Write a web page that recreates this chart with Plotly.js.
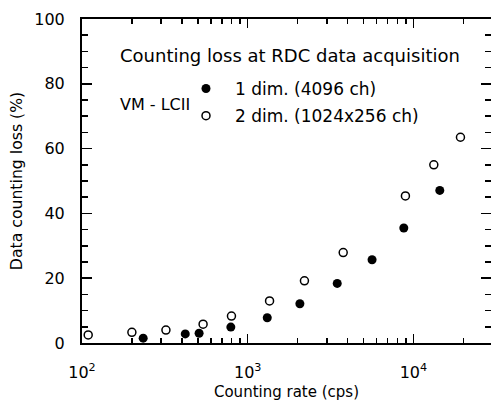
<!DOCTYPE html>
<html>
<head>
<meta charset="utf-8">
<script src="https://cdn.plot.ly/plotly-3.0.1.min.js"></script>
<style>html,body{margin:0;padding:0;background:#fff;}#chart{width:491px;height:405px;}</style>
</head>
<body>
<div id="chart"></div>
<script>
// 1 dim. (4096 ch) — filled circles
const rate1D = [234, 420, 509, 791, 1312, 2065, 3470, 5630, 8750, 14430];
const loss1D = [1.5, 2.8, 3.0, 4.9, 7.8, 12.1, 18.4, 25.7, 35.5, 47.1];
// 2 dim. (1024x256 ch) — open circles
const rate2D = [109, 200, 321, 538, 798, 1355, 2200, 3770, 8950, 13280, 19230];
const loss2D = [2.5, 3.3, 4.0, 5.8, 8.3, 13.0, 19.2, 27.9, 45.4, 55.0, 63.5];

const xTickVals = [100, 1000, 10000];
const xTickText = ['10<sup>2</sup>', '10<sup>3</sup>', '10<sup>4</sup>'];
const xMinorVals = [200,300,400,500,600,700,800,900,2000,3000,4000,5000,6000,7000,8000,9000,20000,30000];
const yTickVals = [0, 20, 40, 60, 80, 100];

const seriesNames = ['1 dim. (4096 ch)', '2 dim. (1024x256 ch)'];
const chartTitle = 'Counting loss at RDC data acquisition';
const groupLabel = 'VM - LCII';
const xTitle = 'Counting rate (cps)';
const yTitle = 'Data counting loss (%)';

const FONT = 'DejaVu Sans, Arial, sans-serif';

const traces = [
  {
    x: rate1D, y: loss1D, type: 'scatter', mode: 'markers', name: seriesNames[0],
    legendgroup: 'a',
    marker: {symbol: 'circle', size: 9, color: '#000'}
  },
  {
    x: rate2D, y: loss2D, type: 'scatter', mode: 'markers', name: seriesNames[1],
    legendgroup: 'b',
    marker: {symbol: 'circle-open', size: 8, color: '#000', line: {width: 1.5, color: '#000'}}
  }
];

const W = 491, H = 405, L = 82, T = 19, B = 62, R = 0;
const plotW = W - L - R, plotH = H - T - B;
const px2x = p => (p - L) / plotW;
const px2y = p => (H - B - p) / plotH;

const layout = {
  width: W, height: H,
  margin: {l: L, r: R, t: T, b: B, pad: 0},
  paper_bgcolor: '#fff', plot_bgcolor: '#fff',
  font: {family: FONT, color: '#000', size: 16},
  showlegend: true,
  legend: {
    x: px2x(177), y: px2y(71), xanchor: 'left', yanchor: 'top',
    font: {family: FONT, size: 17, color: '#000'},
    bgcolor: 'rgba(0,0,0,0)', borderwidth: 0,
    tracegroupgap: 2, itemwidth: 48
  },
  xaxis: {
    type: 'log', range: [2, 2 + plotW / 165.7],
    showgrid: false, zeroline: false,
    showline: true, linecolor: '#000', linewidth: 2, mirror: 'ticks',
    ticks: 'inside', ticklen: 9, tickwidth: 1.5, tickcolor: '#000',
    tickmode: 'array', tickvals: xTickVals, ticktext: xTickText,
    tickfont: {family: FONT, size: 16, color: '#000'},
    ticklabelstandoff: 14,
    minor: {tickmode: 'array', tickvals: xMinorVals, ticks: 'inside', ticklen: 5, tickwidth: 1.5, tickcolor: '#000', showgrid: false},
    title: {text: xTitle, font: {family: FONT, size: 15, color: '#000'}, standoff: 5}
  },
  yaxis: {
    range: [0, 100],
    showgrid: false, zeroline: false,
    showline: true, linecolor: '#000', linewidth: 2, mirror: 'ticks',
    ticks: 'inside', ticklen: 10, tickwidth: 1.5, tickcolor: '#000',
    tickmode: 'array', tickvals: yTickVals,
    tickfont: {family: FONT, size: 16, color: '#000'},
    ticklabelstandoff: 12,
    minor: {dtick: 5, ticks: 'inside', ticklen: 6, tickwidth: 1.5, tickcolor: '#000', showgrid: false},
    title: {text: yTitle, font: {family: FONT, size: 15.7, color: '#000'}, standoff: 8}
  },
  annotations: [
    {text: chartTitle, xref: 'paper', yref: 'paper', x: px2x(290), y: px2y(55),
     xanchor: 'center', yanchor: 'middle', showarrow: false,
     font: {family: FONT, size: 18, color: '#000'}},
    {text: groupLabel, xref: 'paper', yref: 'paper', x: px2x(155), y: px2y(104),
     xanchor: 'center', yanchor: 'middle', showarrow: false,
     font: {family: FONT, size: 16, color: '#000'}}
  ]
};

Plotly.newPlot('chart', traces, layout, {displayModeBar: false, staticPlot: true});
</script>
</body>
</html>
